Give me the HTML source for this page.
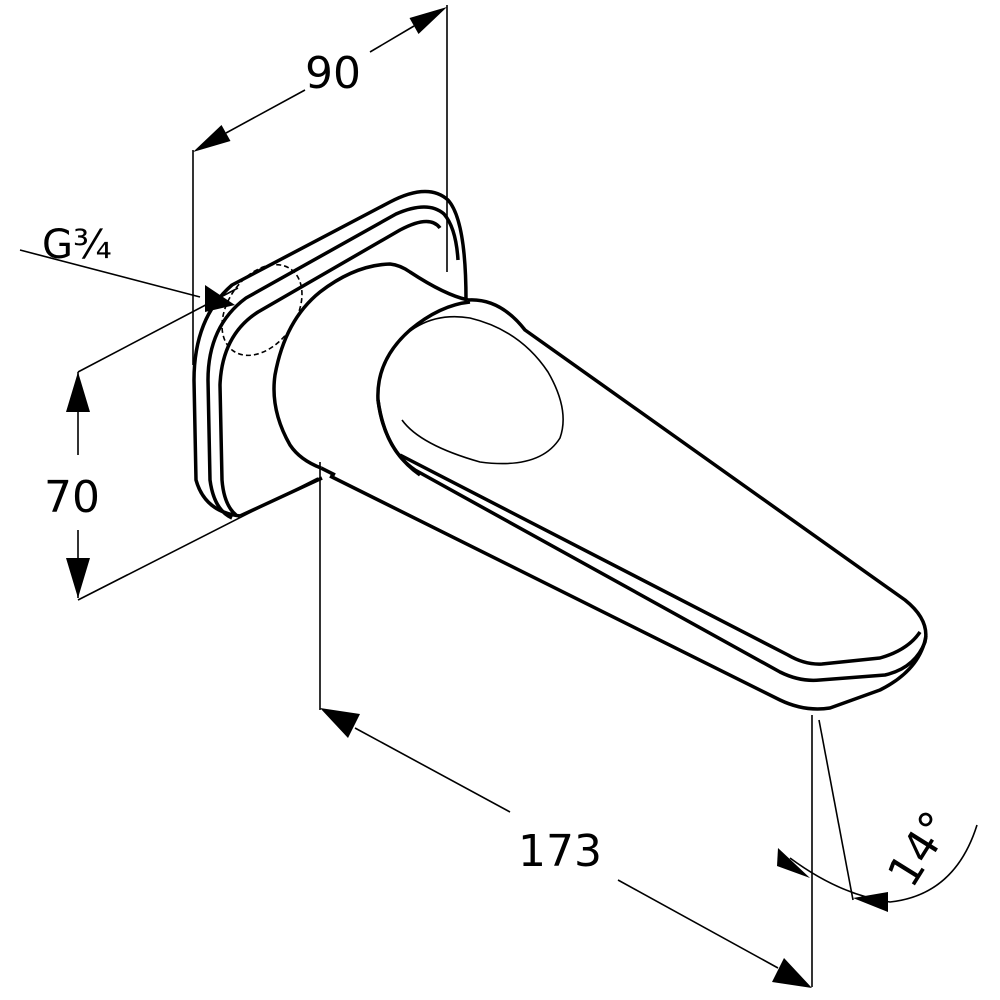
<!DOCTYPE html>
<html><head><style>
html,body{margin:0;padding:0;background:#fff;}
svg{display:block}
text{font-family:"DejaVu Sans","Liberation Sans",sans-serif;fill:#000}
</style></head><body>
<svg width="1000" height="1000" viewBox="0 0 1000 1000" xmlns="http://www.w3.org/2000/svg">
<g fill="none" stroke="#000" stroke-width="1.6">
<!-- 90 dimension -->
<line x1="193" y1="150" x2="193" y2="365"/>
<line x1="447" y1="5" x2="447" y2="272"/>
<line x1="226" y1="133" x2="305" y2="90"/>
<line x1="370" y1="52" x2="414" y2="26"/>
<!-- G3/4 leader -->
<line x1="20" y1="250" x2="200" y2="297"/>
<!-- 70 -->
<line x1="78" y1="372" x2="78" y2="455"/>
<line x1="78" y1="530" x2="78" y2="598"/>
<line x1="78" y1="372" x2="238" y2="288"/>
<line x1="78" y1="600" x2="318" y2="478"/>
<!-- 173 -->
<line x1="320" y1="462" x2="320" y2="710"/>
<line x1="812" y1="715" x2="812" y2="987"/>
<line x1="355" y1="728" x2="510" y2="812"/>
<line x1="618" y1="880" x2="778" y2="968"/>
<!-- 14 -->
<line x1="819" y1="720" x2="853" y2="900"/>
<path d="M790,858 Q840,895 890,902 Q955,895 977,825"/>
</g>
<!-- arrowheads -->
<g fill="#000">
<path d="M193,152 L221.5,125 L230.5,141 Z"/>
<path d="M447,7 L409.5,18 L418.5,34 Z"/>
<path d="M235,305 L205,285 L205,312 Z"/>
<path d="M78,372 L66,412 L90,412 Z"/>
<path d="M78,598 L66,558 L90,558 Z"/>
<path d="M320,708 L360,714 L348,738 Z"/>
<path d="M812,988 L772,982 L784,958 Z"/>
<path d="M810,878 L778,848 L777,866 Z"/>
<path d="M853,898 L888,892 L888,912 Z"/>
</g>
<!-- backplate -->
<g fill="none" stroke="#000" stroke-width="3.5" stroke-linejoin="round">
<path d="M240,516 Q205,512 196,480 L194,380 Q194,318 232,285 L390,202 Q428,182 448,200 Q466,220 466,300"/>
<path d="M240,516 L322,478"/>
<path d="M232,518 Q214,510 210,480 L208,380 Q208,326 246,298 L396,214 Q428,200 444,214 Q456,228 458,260"/>
<path d="M236,515 Q224,505 222,480 L220,385 Q222,335 258,312 L400,230 Q430,214 440,228"/>
<!-- neck -->
<path d="M321,468 Q300,460 290,445 Q270,410 275,375 Q285,320 320,292 Q355,265 390,264 Q400,265 410,272 Q445,295 468,300"/>
<path d="M321,468 L335,475"/>
<!-- spout -->
<path d="M330,476 L780,700 Q805,712 830,708 L880,690 Q920,670 926,636"/>
<path d="M468,300 Q500,298 525,330 L905,600 Q930,620 925,642 Q915,668 885,675 L820,680 Q800,682 780,672 L415,470 Q385,450 378,400 Q376,360 410,330 Q440,305 470,302"/>
<path d="M400,455 L788,655 Q805,665 822,664 L880,658 Q908,650 920,632"/>
<path d="M378,400 Q384,450 420,475"/>
</g>
<g fill="none" stroke="#000" stroke-width="1.6">
<path d="M390,352 Q420,310 470,318 Q520,330 548,372 Q570,410 560,438 Q540,470 480,462 Q420,445 402,420"/>
<ellipse cx="262" cy="310" rx="34" ry="50" transform="rotate(35 262 310)" stroke-dasharray="5,3"/>
</g>
<text x="305" y="88" font-size="44">90</text>
<text x="42" y="258" font-size="40">G¾</text>
<text x="44" y="512" font-size="44">70</text>
<text x="518" y="866" font-size="44">173</text>
<text x="0" y="0" font-size="44" transform="translate(912,890) rotate(-58)">14°</text>
</svg>
</body></html>
